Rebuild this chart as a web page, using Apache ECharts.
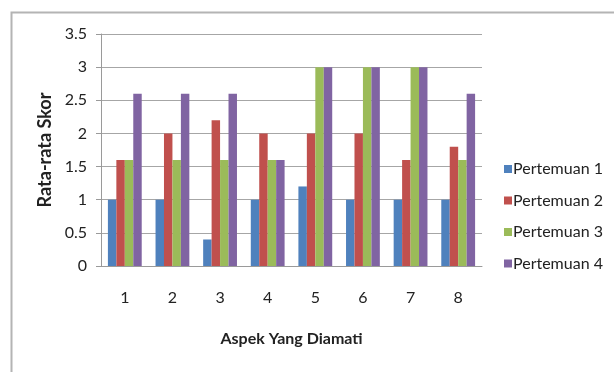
<!DOCTYPE html>
<html>
<head>
<meta charset="utf-8">
<script src="https://cdn.jsdelivr.net/npm/echarts@6/dist/echarts.min.js"></script>
<style>
  html, body { margin: 0; padding: 0; background: #fff; }
  #chart { width: 614px; height: 372px; }
</style>
</head>
<body>
<div id="chart"></div>
<script>
// Aspects observed (x categories)
const categories = ['1', '2', '3', '4', '5', '6', '7', '8'];
// Average score per meeting
const pertemuan1 = [1, 1, 0.4, 1, 1.2, 1, 1, 1];
const pertemuan2 = [1.6, 2, 2.2, 2, 2, 2, 1.6, 1.8];
const pertemuan3 = [1.6, 1.6, 1.6, 1.6, 3, 3, 3, 1.6];
const pertemuan4 = [2.6, 2.6, 2.6, 1.6, 3, 3, 3, 2.6];
const seriesNames = ['Pertemuan 1', 'Pertemuan 2', 'Pertemuan 3', 'Pertemuan 4'];
const seriesColors = ['#4F81BD', '#C0504D', '#9BBB59', '#8064A2'];

const font = 'Lato, "Open Sans", sans-serif';
const seriesData = [pertemuan1, pertemuan2, pertemuan3, pertemuan4];

const chart = echarts.init(document.getElementById('chart'), null, { renderer: 'canvas' });
chart.setOption({
  animation: false,
  backgroundColor: '#fff',
  textStyle: { fontFamily: font },
  graphic: [{
    type: 'rect',
    shape: { x: 11.5, y: 12.5, width: 640, height: 400 },
    style: { fill: 'none', stroke: '#b4b4b4', lineWidth: 2 },
    silent: true
  }],
  grid: { left: 101, right: 132, top: 34, bottom: 106, containLabel: false },
  legend: {
    orient: 'vertical',
    left: 499,
    top: 156,
    itemWidth: 8,
    itemHeight: 8,
    itemGap: 15.5,
    icon: 'rect',
    textStyle: { fontSize: 16, color: '#222', fontFamily: font, padding: [0, 0, 0, -4] },
    data: seriesNames
  },
  xAxis: {
    type: 'category',
    data: categories,
    name: 'Aspek Yang Diamati',
    nameLocation: 'middle',
    nameGap: 65,
    nameTextStyle: { fontSize: 16, fontWeight: 'bold', color: '#222', fontFamily: font },
    axisLine: { lineStyle: { color: '#9a9a9a' } },
    axisTick: { show: false },
    axisLabel: { fontSize: 16, color: '#222', margin: 24 }
  },
  yAxis: {
    type: 'value',
    min: 0,
    max: 3.5,
    interval: 0.5,
    name: 'Rata-rata Skor',
    nameLocation: 'middle',
    nameGap: 47,
    nameRotate: 90,
    nameTextStyle: { fontSize: 18, fontWeight: 'bold', color: '#222', fontFamily: font },
    axisLine: { show: true, lineStyle: { color: '#9a9a9a' } },
    axisTick: { show: true, length: 5, lineStyle: { color: '#9a9a9a' } },
    axisLabel: { fontSize: 16, color: '#222', margin: 14 },
    splitLine: { lineStyle: { color: '#a6a6a6', width: 1 } }
  },
  series: seriesNames.map((name, i) => ({
    name: name,
    type: 'bar',
    data: seriesData[i],
    barGap: '0%',
    barCategoryGap: '29%',
    itemStyle: { color: seriesColors[i] }
  }))
});
</script>
</body>
</html>
